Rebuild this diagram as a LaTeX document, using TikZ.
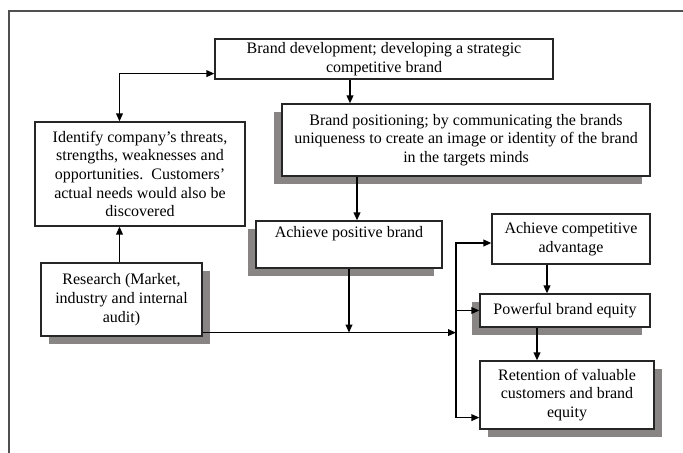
\documentclass[tikz,border=0pt]{standalone}
\usepackage{fontspec}
\setmainfont{Liberation Serif}
\usepackage{tikz}
\usetikzlibrary{arrows.meta,shadows}

\definecolor{shadegray}{RGB}{137,133,133}
\definecolor{framegray}{RGB}{80,80,80}

\begin{document}
\begin{tikzpicture}[x=0.75pt,y=-0.75pt,
    box/.style={draw=black!85,line width=0.9pt,fill=white,align=center,inner sep=0pt,
      font=\fontsize{12}{14}\selectfont},
    wh/.style 2 args={minimum width=#1*0.75pt,minimum height=#2*0.75pt},
    dropL/.style={drop shadow={shadow xshift=-6pt,shadow yshift=-6pt,opacity=1,fill=shadegray,draw=none}},
    dropR/.style={drop shadow={shadow xshift=6pt,shadow yshift=-6pt,opacity=1,fill=shadegray,draw=none}},
    arr/.style={line width=1.2pt,>={Triangle[length=6pt,width=5pt]}}]
  \useasboundingbox (0,0) rectangle (683,453);
  \draw[framegray,line width=0.8pt] (9,453) -- (9,11) -- (683,11);

  \node[box,wh={338}{40}] (dev) at (384,59) {Brand development; developing a strategic\\competitive brand};
  \node[box,dropL,wh={368}{72}] (pos) at (466,140) {Brand positioning; by communicating the brands\\uniqueness to create an image or identity of the brand\\in the targets minds};
  \node[box,wh={210}{104}] (ident) at (140,174) {Identify company's threats,\\strengths, weaknesses and\\opportunities.\ \ Customers'\\actual needs would also be\\discovered};
  \node[box,dropR,wh={161}{73}] (res) at (121.5,299.5) {Research (Market,\\industry and internal\\audit)};
  \node[box,dropL,wh={186}{47}] (ach) at (349,244.5) {Achieve positive brand\\\strut};
  \node[box,wh={158}{50}] (comp) at (571,239) {Achieve competitive\\advantage};
  \node[box,dropL,wh={170}{33}] (equity) at (565,310.5) {Powerful brand equity};
  \node[box,dropR,wh={174}{68}] (ret) at (567,395) {Retention of valuable\\customers and brand\\equity};

  % left column and the loop up to the top box
  \coordinate (lp) at ([shift={(-2,0)}]res.north);
  \coordinate (dv) at ([shift={(0,-6)}]dev.south west);
  \draw[arr,->] (lp) -- (lp |- ident.south);
  \draw[arr,<->] (lp |- ident.north) |- (dv);

  % centre column
  \coordinate (d1) at ([shift={(-34,0)}]dev.south);
  \coordinate (p1) at ([shift={(8,0)}]ach.north);
  \draw[arr,->] (d1) -- (d1 |- pos.north);
  \draw[arr,->] (p1 |- pos.south) -- (p1);

  % joint line into the bus on the right
  \coordinate (j) at ([shift={(0,-4)}]res.south east);
  \coordinate (bus) at (456,0);
  \coordinate (r) at ([shift={(0,-12)}]ret.south west);
  \coordinate (c) at ([shift={(0,4)}]comp.west);
  \draw[arr,->] (ach.south) -- (ach.south |- j);
  \draw[arr,->] (j) -- (j -| bus);
  \draw[arr,->] (bus |- r) |- (c);
  \draw[arr,->] (bus |- r) -- (r);
  \draw[arr,->] (bus |- equity.west) -- (equity.west);

  % right column
  \coordinate (c2) at ([shift={(-24,0)}]comp.south);
  \coordinate (e2) at ([shift={(-28,0)}]equity.south);
  \draw[arr,->] (c2) -- (c2 |- equity.north);
  \draw[arr,->] (e2) -- (e2 |- ret.north);
\end{tikzpicture}
\end{document}
